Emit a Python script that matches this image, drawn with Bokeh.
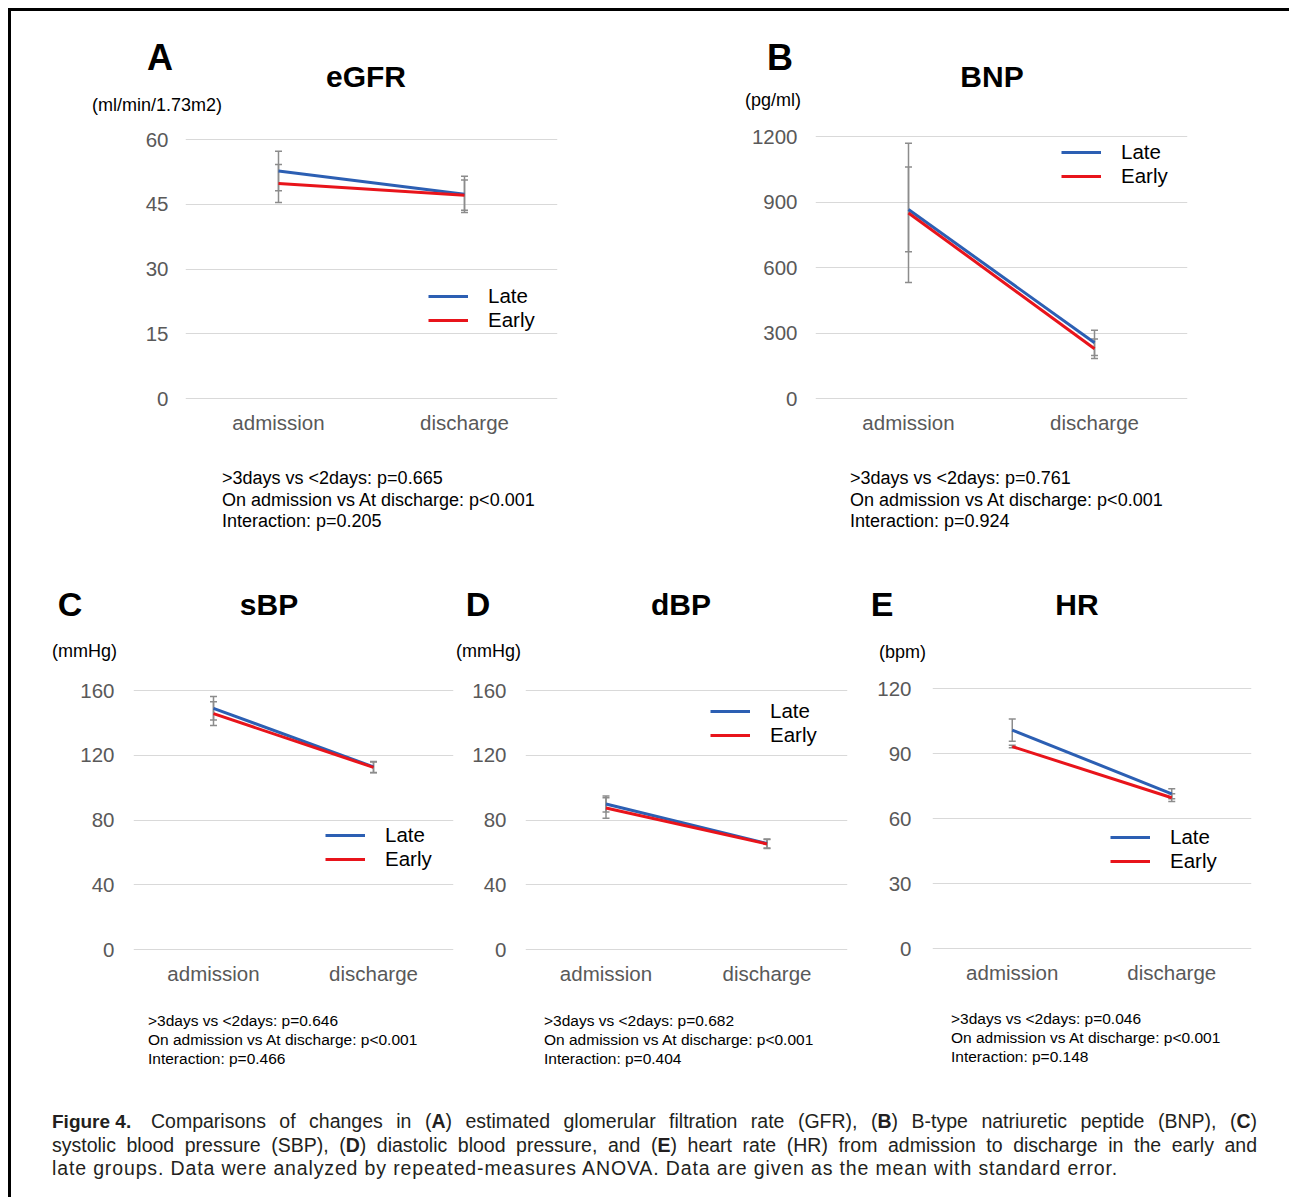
from bokeh.plotting import figure
from bokeh.models import (Range1d, FactorRange, FixedTicker, Legend, LegendItem,
                          Whisker, TeeHead, ColumnDataSource, Div)
from bokeh.layouts import row, column
from bokeh.embed import file_html
from bokeh.resources import INLINE

FONT = "Liberation Sans"
CSSFONT = "'Liberation Sans', Arial, sans-serif"
BLUE = "#2C5FB3"
RED = "#E8141B"
ERR = "#8C8C8C"
GRID = "#D9D9D9"
TICK = "#595959"

# ---------------- data ----------------
categories = ["admission", "discharge"]
series_names = ["Late", "Early"]

egfr_late = [52.7, 47.3]
egfr_early = [49.8, 47.1]
egfr_late_se = [4.6, 4.2]
egfr_early_se = [4.4, 3.5]
egfr_ticks = [0, 15, 30, 45, 60]

bnp_late = [866, 255]
bnp_early = [850, 228]
bnp_late_se = [194, 58]
bnp_early_se = [319, 45]
bnp_ticks = [0, 300, 600, 900, 1200]

sbp_late = [149.0, 112.8]
sbp_early = [145.7, 112.5]
sbp_late_se = [7.3, 3.4]
sbp_early_se = [7.3, 3.3]
bp_ticks = [0, 40, 80, 120, 160]

dbp_late = [89.9, 65.5]
dbp_early = [87.4, 65.2]
dbp_late_se = [4.9, 2.8]
dbp_early_se = [6.3, 2.8]

hr_late = [100.8, 71.4]
hr_early = [93.2, 69.6]
hr_late_se = [5.1, 2.3]
hr_early_se = [0.6, 1.8]
hr_ticks = [0, 30, 60, 90, 120]

stats_egfr = [">3days vs <2days: p=0.665", "On admission vs At discharge: p<0.001", "Interaction: p=0.205"]
stats_bnp = [">3days vs <2days: p=0.761", "On admission vs At discharge: p<0.001", "Interaction: p=0.924"]
stats_sbp = [">3days vs <2days: p=0.646", "On admission vs At discharge: p<0.001", "Interaction: p=0.466"]
stats_dbp = [">3days vs <2days: p=0.682", "On admission vs At discharge: p<0.001", "Interaction: p=0.404"]
stats_hr = [">3days vs <2days: p=0.046", "On admission vs At discharge: p<0.001", "Interaction: p=0.148"]

OFF = 8   # page margin provided by spacers
PADPX = 2  # extra frame pixels so that the 0 and max gridlines are drawn


def esc(s):
    return s.replace("&", "&amp;").replace("<", "&lt;").replace(">", "&gt;")


def text_div(w, h, items):
    spans = []
    for (text, x, y, size, bold, align) in items:
        tr = "translate(-50%,-50%)" if align == "center" else "translate(0,-50%)"
        spans.append(
            f'<span style="position:absolute;left:{x}px;top:{y}px;transform:{tr};white-space:nowrap;'
            f'font-family:{CSSFONT};font-size:{size}px;font-weight:{"bold" if bold else "normal"};'
            f'line-height:1.15;color:#000;">{esc(text)}</span>')
    html = f'<div style="position:relative;width:{w}px;height:{h}px;">' + "".join(spans) + "</div>"
    return Div(text=html, width=w, height=h, margin=0)


def make_panel(x0, y0, w, heights, frame_box, ymax, ticks, late, early, late_se, early_se,
               letter, letter_xy, title, title_xy, unit, unit_xy, letter_size,
               stats, stats_xy, stats_size, stats_step, legend_xy, ystand):
    hh, fh, foot_h = heights
    fl, fr, ft, fb = frame_box
    pad = PADPX * ymax / (fb - ft)
    ft2, fb2 = ft - PADPX, fb + PADPX
    fig_y0 = y0 + hh
    p = figure(width=w, height=fh, x_range=FactorRange(*categories), y_range=Range1d(-pad, ymax + pad),
               output_backend="svg", toolbar_location=None,
               min_border_left=fl - x0, min_border_right=x0 + w - fr,
               min_border_top=ft2 - fig_y0, min_border_bottom=fig_y0 + fh - fb2)
    p.outline_line_color = None
    p.background_fill_color = "white"
    p.border_fill_color = "white"
    p.xgrid.grid_line_color = None
    p.ygrid.grid_line_color = GRID
    p.ygrid.grid_line_width = 1
    p.yaxis.ticker = FixedTicker(ticks=ticks)
    for ax in (p.xaxis[0], p.yaxis[0]):
        ax.axis_line_color = None
        ax.major_tick_line_color = None
        ax.minor_tick_line_color = None
        ax.major_label_text_font = FONT
        ax.major_label_text_font_size = "20.5px"
        ax.major_label_text_color = TICK
    p.xaxis.major_label_standoff = 6 - PADPX
    p.yaxis.major_label_standoff = ystand

    src = ColumnDataSource(dict(
        x=categories, late=late, early=early,
        late_hi=[v + e for v, e in zip(late, late_se)], late_lo=[v - e for v, e in zip(late, late_se)],
        early_hi=[v + e for v, e in zip(early, early_se)], early_lo=[v - e for v, e in zip(early, early_se)],
    ))
    for hi, lo in (("early_hi", "early_lo"), ("late_hi", "late_lo")):
        wk = Whisker(source=src, base="x", upper=hi, lower=lo, line_color=ERR, line_width=1.5,
                     upper_head=TeeHead(size=7, line_color=ERR, line_width=1.5),
                     lower_head=TeeHead(size=7, line_color=ERR, line_width=1.5), level="underlay")
        p.add_layout(wk)
    r_late = p.line(x="x", y="late", source=src, line_color=BLUE, line_width=3)
    r_early = p.line(x="x", y="early", source=src, line_color=RED, line_width=3)

    lx, ly = legend_xy
    legend = Legend(items=[LegendItem(label=series_names[0], renderers=[r_late]),
                           LegendItem(label=series_names[1], renderers=[r_early])],
                    location=(lx - fl, fb2 - ly), glyph_width=40, glyph_height=20, label_height=20,
                    label_standoff=20, spacing=0, padding=0, margin=0,
                    border_line_color=None, background_fill_alpha=0,
                    label_text_font=FONT, label_text_font_size="20.5px", label_text_color="black")
    p.add_layout(legend)

    header = text_div(w, hh, [
        (letter, letter_xy[0] - x0, letter_xy[1] - y0, letter_size, True, "center"),
        (title, title_xy[0] - x0, title_xy[1] - y0, 30, True, "center"),
        (unit, unit_xy[0] - x0, unit_xy[1] - y0, 18, False, "left"),
    ])
    foot_y0 = fig_y0 + fh
    footer = text_div(w, foot_h, [
        (s, stats_xy[0] - x0, stats_xy[1] + i * stats_step - foot_y0, stats_size, False, "left")
        for i, s in enumerate(stats)
    ])
    return column(header, p, footer)


TOP = (109, 325, 125)
BOT = (100, 330, 90)


def P(v):
    # page pixel -> layout pixel
    return v - OFF


pA = make_panel(P(11), P(11), 629, TOP, tuple(P(v) for v in (185, 557, 139, 398)), 60, egfr_ticks,
                egfr_late, egfr_early, egfr_late_se, egfr_early_se,
                "A", (P(160), P(58)), "eGFR", (P(366), P(77)), "(ml/min/1.73m2)", (P(92), P(105)), 36,
                stats_egfr, (P(222), P(478)), 18, 21.5, (P(428), P(332)), 11)
pB = make_panel(P(640), P(11), 641, TOP, tuple(P(v) for v in (815, 1187, 136, 398)), 1200, bnp_ticks,
                bnp_late, bnp_early, bnp_late_se, bnp_early_se,
                "B", (P(780), P(58)), "BNP", (P(992), P(77)), "(pg/ml)", (P(745), P(100)), 36,
                stats_bnp, (P(850), P(478)), 18, 21.5, (P(1061), P(188)), 12)
pC = make_panel(P(11), P(570), 444, BOT, tuple(P(v) for v in (133, 453, 690, 949)), 160, bp_ticks,
                sbp_late, sbp_early, sbp_late_se, sbp_early_se,
                "C", (P(70), P(605)), "sBP", (P(269), P(605)), "(mmHg)", (P(52), P(651)), 34,
                stats_sbp, (P(148), P(1021)), 15.5, 19, (P(325), P(871)), 13)
pD = make_panel(P(455), P(570), 405, BOT, tuple(P(v) for v in (525, 847, 690, 949)), 160, bp_ticks,
                dbp_late, dbp_early, dbp_late_se, dbp_early_se,
                "D", (P(478), P(605)), "dBP", (P(681), P(605)), "(mmHg)", (P(456), P(651)), 34,
                stats_dbp, (P(544), P(1021)), 15.5, 19, (P(710), P(747)), 13)
pE = make_panel(P(860), P(570), 421, BOT, tuple(P(v) for v in (932, 1251, 688, 948)), 120, hr_ticks,
                hr_late, hr_early, hr_late_se, hr_early_se,
                "E", (P(882), P(605)), "HR", (P(1077), P(605)), "(bpm)", (P(879), P(652)), 34,
                stats_hr, (P(951), P(1019)), 15.5, 19, (P(1110), P(873)), 15)

caption_html = f"""
<div style="box-sizing:content-box;font-family:{CSSFONT};font-size:19.5px;color:#231f20;line-height:23.5px;padding:20px 0 0 41px;width:1205px;">
<div style="text-align:justify;text-align-last:justify;white-space:nowrap;"><b style="display:inline-block;width:99px;text-align:left;text-align-last:left;font-size:19px;">Figure 4.</b>Comparisons of changes in (<b>A</b>) estimated glomerular filtration rate (GFR), (<b>B</b>) B-type natriuretic peptide (BNP), (<b>C</b>)</div>
<div style="text-align:justify;text-align-last:justify;white-space:nowrap;">systolic blood pressure (SBP), (<b>D</b>) diastolic blood pressure, and (<b>E</b>) heart rate (HR) from admission to discharge in the early and</div>
<div style="text-align:left;white-space:nowrap;letter-spacing:0.86px;">late groups. Data were analyzed by repeated-measures ANOVA. Data are given as the mean with standard error.</div>
</div>
"""
caption = Div(text=caption_html, width=1270, height=99, margin=0)

top_bar = Div(text="", width=1281, height=3, margin=0, styles={"background-color": "black"})
left_bar = Div(text="", width=3, height=1186, margin=0, styles={"background-color": "black"})
content = column(row(pA, pB), row(pC, pD, pE), caption)
framed = column(top_bar, row(left_bar, content))

top_space = Div(text="", width=1289, height=OFF, margin=0)
left_space = Div(text="", width=OFF, height=1189, margin=0)
root = column(top_space, row(left_space, framed))

open("out.html", "w").write(file_html(root, INLINE))
